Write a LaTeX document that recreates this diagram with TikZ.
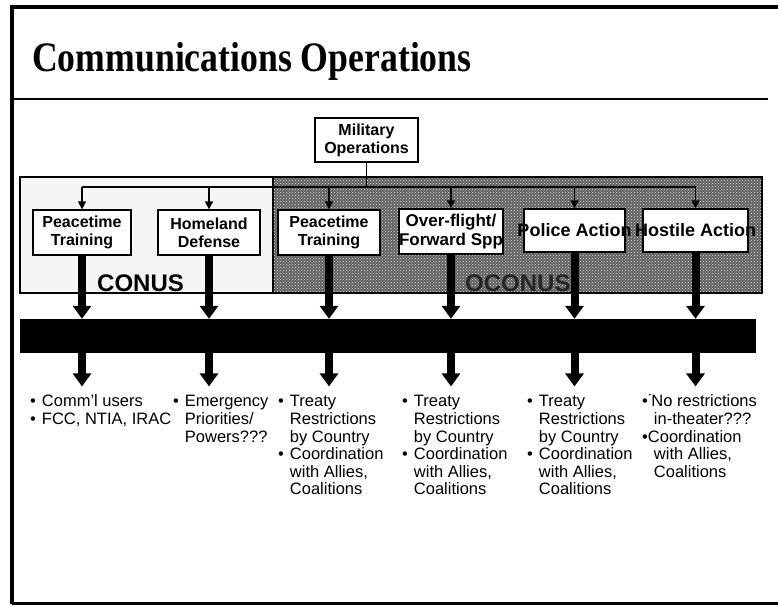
\documentclass[tikz,border=0pt]{standalone}
\usepackage{fontspec}
\setmainfont{Liberation Sans}
\newfontfamily\titlefont{Liberation Serif}
\usetikzlibrary{arrows.meta}
\usetikzlibrary{patterns}

\tikzset{
  opbox/.style={draw,line width=1.3pt,fill=white,align=center,inner sep=2pt,font=\bfseries\fontsize{16}{18}\selectfont},
  feed/.style={line width=1.4pt,-{Triangle[width=8pt,length=8pt]}},
  fat/.style={line width=8pt,-{Triangle[width=18pt,length=13pt]}},
  note/.style={anchor=north west,inner sep=0pt,font=\fontsize{16.5}{17.6}\selectfont},
  zonelbl/.style={anchor=base west,inner sep=0pt,font=\bfseries\fontsize{24}{26}\selectfont}
}
\newcommand{\pts}[2][6pt]{\begin{tabular}{@{}l@{\hspace{#1}}l@{}}#2\end{tabular}}

\begin{document}
\begin{tikzpicture}[x=1pt,y=-1pt]
      \useasboundingbox (0,0) rectangle (778,605);
      \draw[line width=4pt] (778,7) -- (12,7) -- (12,604);
      \draw[line width=3pt] (12,603.5) -- (778,603.5);
      \node[anchor=base west,inner sep=0pt,font=\titlefont\bfseries\fontsize{42}{44}\selectfont] (title) at (32,71) {\scalebox{0.85}[1]{Communications Operations}};
      \draw[line width=2.5pt] (10,99) -- (768,99);

      \fill[gray!8] (20,177) rectangle (273,293);
      \fill[black!62] (273,177) rectangle (762,293);
      \fill[pattern=crosshatch dots,pattern color=white!75!gray] (273,177) rectangle (762,293);
      \draw[line width=1.8pt] (20,177) rectangle (762,293);
      \draw[line width=1.2pt] (273,177) -- (273,293);
      \node[zonelbl] (conus) at (97,291) {CONUS};
      \node[zonelbl,text=black!85] (oconus) at (465,291) {OCONUS};

      \node[opbox,minimum width=103pt,minimum height=44pt] (mil) at (366.5,140) {Military\\Operations};
      \node[opbox,minimum width=98pt,minimum height=45pt] (pt1) at (82,232.5) {Peacetime\\Training};
      \node[opbox,minimum width=102pt,minimum height=45pt] (hd) at (209,232.5) {Homeland\\Defense};
      \node[opbox,minimum width=102pt,minimum height=45pt] (pt2) at (329,232.5) {Peacetime\\Training};
      \node[opbox,minimum width=104pt,minimum height=45pt,font=\bfseries\fontsize{17}{18.5}\selectfont] (ofs) at (451,231.5) {\makebox[0pt]{Over-flight/}\\\makebox[0pt]{Forward Spp}};
      \node[opbox,minimum width=101pt,minimum height=43pt,font=\bfseries\fontsize{18}{20}\selectfont] (pa) at (574.5,230.5) {\makebox[0pt]{Police Action}};
      \node[opbox,minimum width=105pt,minimum height=43pt,font=\bfseries\fontsize{18}{20}\selectfont] (ha) at (695.5,230.5) {\makebox[0pt]{Hostile Action}};

      \coordinate (bus) at (366.5,187);
      \draw[line width=1.4pt] (mil) -- (bus);
      \draw[line width=1.4pt] (pt1 |- bus) -- (ha |- bus);
      \draw[feed] (pt1 |- bus) -- (pt1);
      \draw[feed] (hd |- bus) -- (hd);
      \draw[feed] (pt2 |- bus) -- (pt2);
      \draw[feed] (ofs |- bus) -- (ofs);
      \draw[feed] (pa |- bus) -- (pa);
      \draw[feed] (ha |- bus) -- (ha);

      \node[fill=black,minimum width=736pt,minimum height=34pt,inner sep=0pt] (bar) at (388,336) {};

      \node[note] (n1) at (30,394.4) {\pts{•&Comm'l users\\•&FCC, NTIA, IRAC}};
      \node[note] (n2) at (173,394.4) {\pts{•&Emergency\\&Priorities/\\&Powers???}};
      \node[note] (n3) at (278,394.4) {\pts{•&Treaty\\&Restrictions\\&by Country\\•&Coordination\\&with Allies,\\&Coalitions}};
      \node[note] (n4) at (402,394.4) {\pts{•&Treaty\\&Restrictions\\&by Country\\•&Coordination\\&with Allies,\\&Coalitions}};
      \node[note] (n5) at (527,394.4) {\pts{•&Treaty\\&Restrictions\\&by Country\\•&Coordination\\&with Allies,\\&Coalitions}};
      \node[note] (n6) at (642,394.4) {\pts[0pt]{•&˙\hspace{-2pt}No restrictions\\&\hspace{6pt}in-theater???\\•&Coordination\\&\hspace{6pt}with Allies,\\&\hspace{6pt}Coalitions}};

      \draw[fat] (pt1) -- (pt1 |- bar.north);
      \draw[fat] (hd) -- (hd |- bar.north);
      \draw[fat] (pt2) -- (pt2 |- bar.north);
      \draw[fat] (ofs) -- (ofs |- bar.north);
      \draw[fat] (pa) -- (pa |- bar.north);
      \draw[fat] (ha) -- (ha |- bar.north);

      \draw[fat,shorten >=8pt] (pt1 |- bar.south) -- (pt1 |- n1.north);
      \draw[fat,shorten >=8pt] (hd |- bar.south) -- (hd |- n2.north);
      \draw[fat,shorten >=8pt] (pt2 |- bar.south) -- (pt2 |- n3.north);
      \draw[fat,shorten >=8pt] (ofs |- bar.south) -- (ofs |- n4.north);
      \draw[fat,shorten >=8pt] (pa |- bar.south) -- (pa |- n5.north);
      \draw[fat,shorten >=8pt] (ha |- bar.south) -- (ha |- n6.north);
\end{tikzpicture}
\end{document}
